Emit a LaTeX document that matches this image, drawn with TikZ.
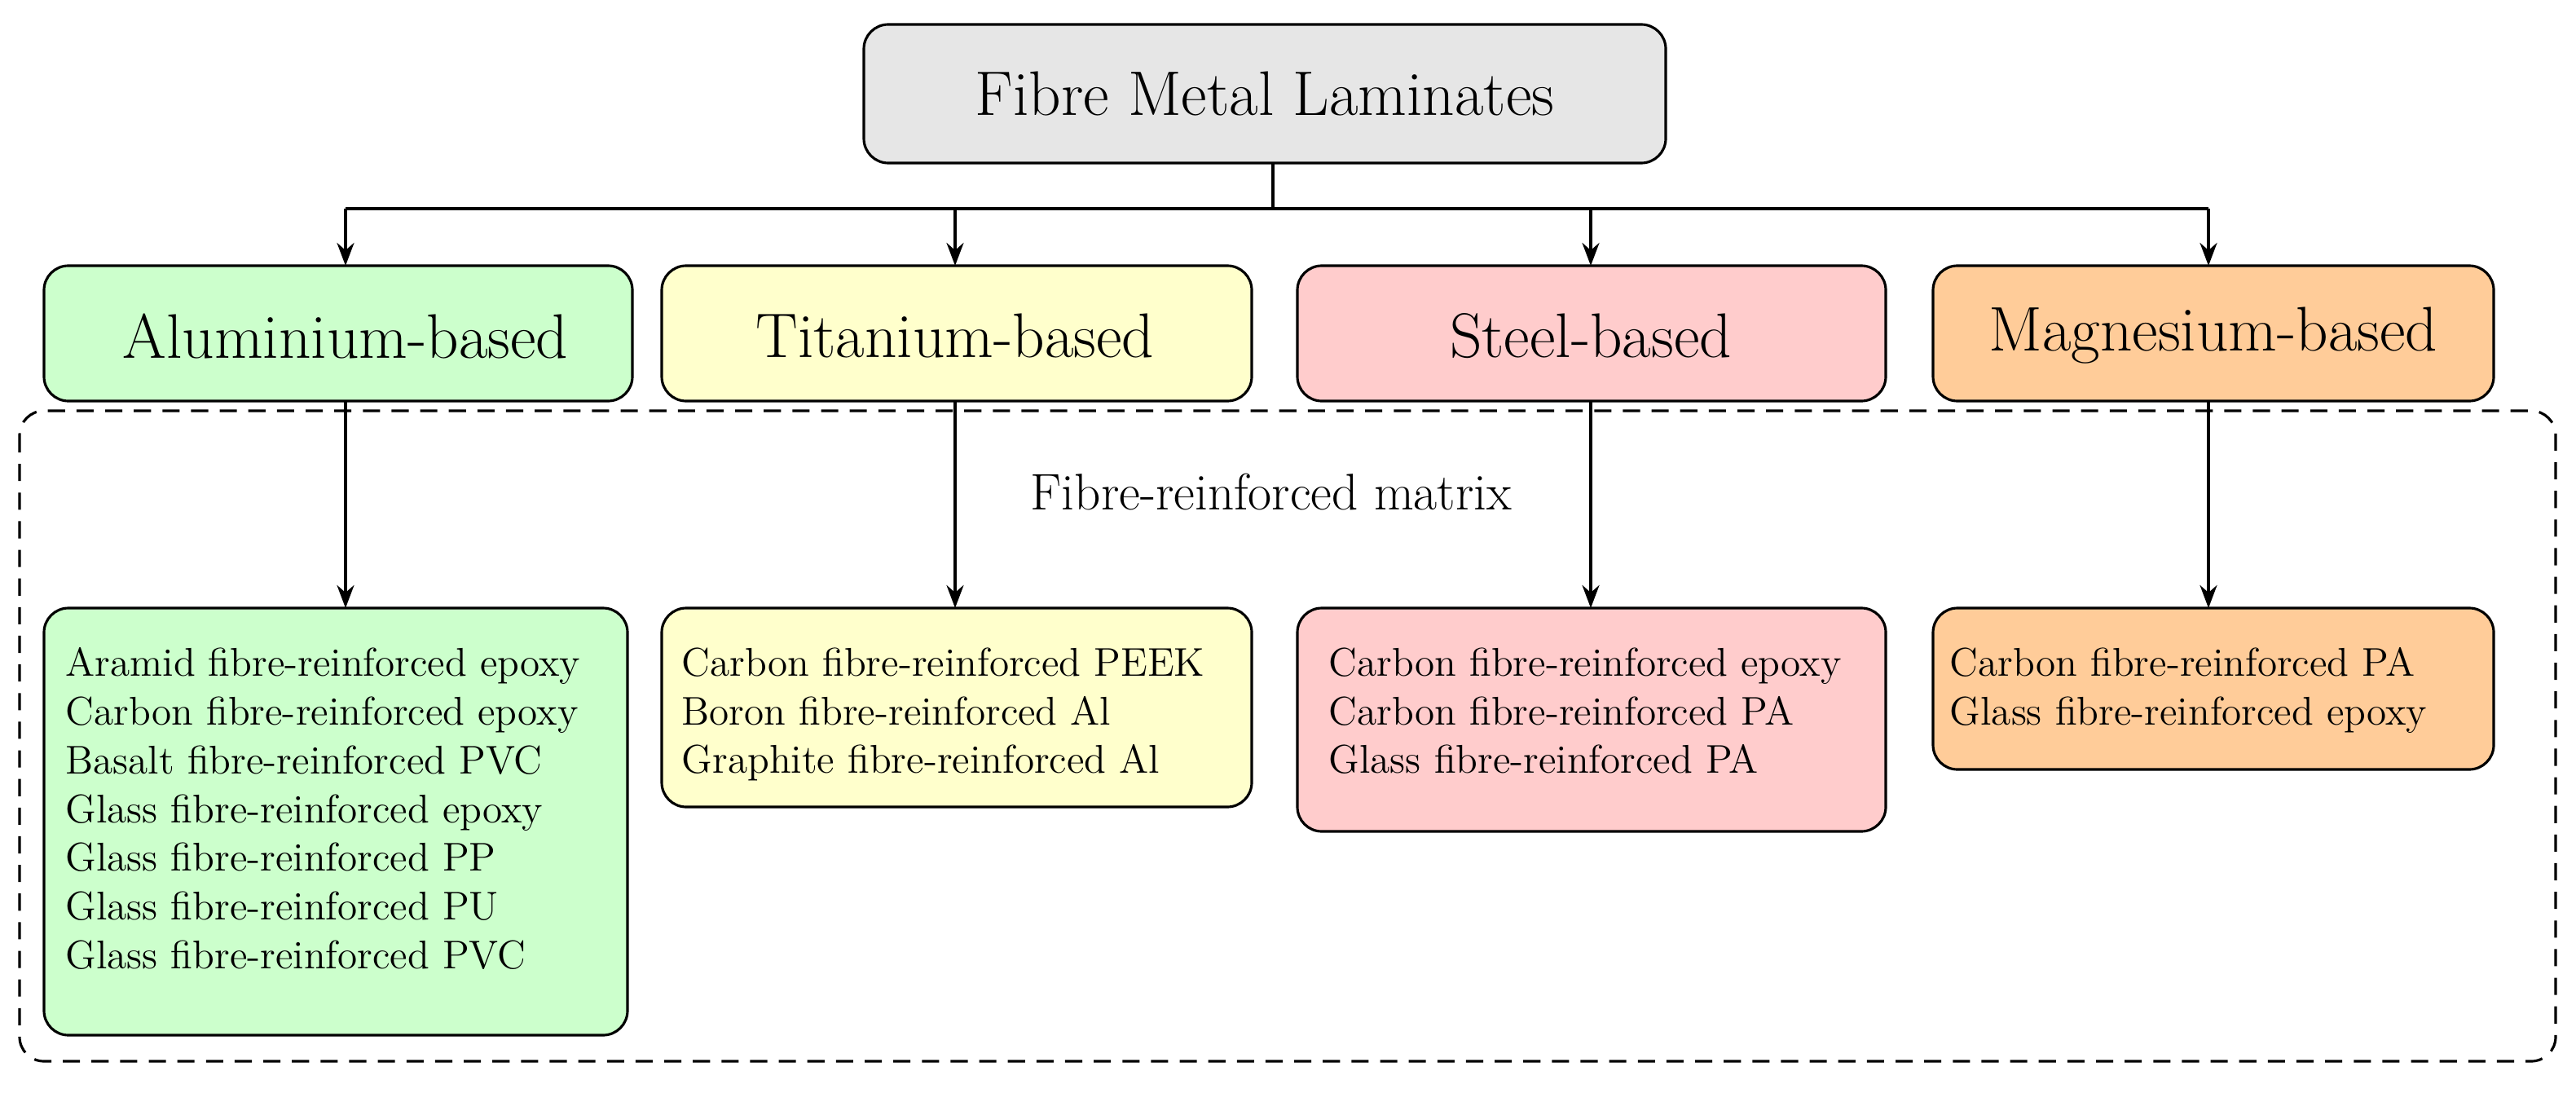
\documentclass[tikz,border=0pt]{standalone}
\usetikzlibrary{arrows.meta}
\definecolor{cgray}{HTML}{E6E6E6}
\definecolor{cgreen}{HTML}{CCFFCC}
\definecolor{cyellow}{HTML}{FFFFCC}
\definecolor{cpink}{HTML}{FFCCCC}
\definecolor{corange}{HTML}{FFCC99}
\begin{document}
\begin{tikzpicture}[x=0.02cm,y=-0.02cm,
  box/.style={draw,line width=0.9pt,rounded corners=0.3cm},
  arr/.style={line width=0.9pt,-{Stealth[length=8pt,width=6pt]}},
  big/.style={font=\fontsize{22}{26}\selectfont},
  small/.style={font=\fontsize{14}{17}\selectfont,align=left,anchor=north west,inner sep=0pt}]
\useasboundingbox (0,0) rectangle (1580.5,676);
% top
\draw[box,fill=cgray] (530,15) rectangle (1022,100);
\node[big] (top) at (776,57.5) {Fibre Metal Laminates};
\coordinate (tb) at (781,100);
\coordinate (j) at (781,128);
% level 2
\draw[box,fill=cgreen] (27,163) rectangle (388,246);
\draw[box,fill=cyellow] (406,163) rectangle (768,246);
\draw[box,fill=cpink] (796,163) rectangle (1157,246);
\draw[box,fill=corange] (1186,163) rectangle (1530,246);
\node[big] (al) at (212,206) {Aluminium-based};
\node[big] (ti) at (586,206) {Titanium-based};
\node[big] (st) at (976,206) {Steel-based};
\node[big] (mg) at (1358,206) {Magnesium-based};
\coordinate (alt) at (212,163); \coordinate (tit) at (586,163);
\coordinate (stt) at (976,163); \coordinate (mgt) at (1355,163);
\coordinate (alb) at (212,246); \coordinate (tib) at (586,246);
\coordinate (stb) at (976,246); \coordinate (mgb) at (1355,246);
\coordinate (jl) at (212,128); \coordinate (jr) at (1355,128);
\coordinate (jt) at (586,128); \coordinate (js) at (976,128);
\draw[line width=0.9pt] (tb) -- (j);
\draw[line width=0.9pt] (jl) -- (jr);
\draw[arr] (jl) -- (alt);
\draw[arr] (jt) -- (tit);
\draw[arr] (js) -- (stt);
\draw[arr] (jr) -- (mgt);
% dashed frame
\draw[line width=0.9pt,dashed,dash pattern=on 6pt off 4pt,rounded corners=0.3cm] (12,252) rectangle (1568,651);
\node[font=\fontsize{18}{21}\selectfont] (fm) at (780,302) {Fibre-reinforced matrix};
% bottom
\draw[box,fill=cgreen] (27,373) rectangle (385,635);
\draw[box,fill=cyellow] (406,373) rectangle (768,495);
\draw[box,fill=cpink] (796,373) rectangle (1157,510);
\draw[box,fill=corange] (1186,373) rectangle (1530,472);
\coordinate (alc) at (212,373); \coordinate (tic) at (586,373);
\coordinate (stc) at (976,373); \coordinate (mgc) at (1355,373);
\draw[arr] (alb) -- (alc);
\draw[arr] (tib) -- (tic);
\draw[arr] (stb) -- (stc);
\draw[arr] (mgb) -- (mgc);
\node[small] (la) at (40,397) {Aramid fibre-reinforced epoxy\\Carbon fibre-reinforced epoxy\\Basalt fibre-reinforced PVC\\Glass fibre-reinforced epoxy\\Glass fibre-reinforced PP\\Glass fibre-reinforced PU\\Glass fibre-reinforced PVC};
\node[small] (lt) at (418,397) {Carbon fibre-reinforced PEEK\\Boron fibre-reinforced Al\\Graphite fibre-reinforced Al};
\node[small] (ls) at (815,397) {Carbon fibre-reinforced epoxy\\Carbon fibre-reinforced PA\\Glass fibre-reinforced PA};
\node[small] (lm) at (1196,397) {Carbon fibre-reinforced PA\\Glass fibre-reinforced epoxy};
\end{tikzpicture}
\end{document}
